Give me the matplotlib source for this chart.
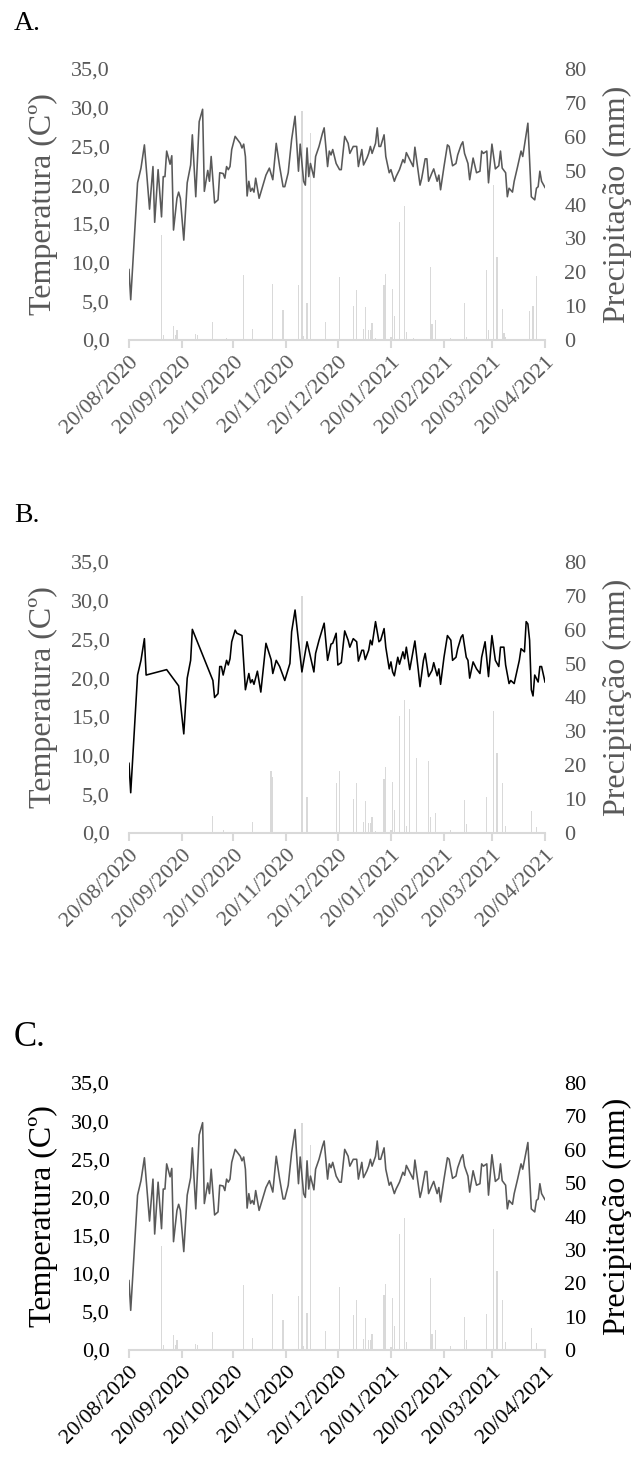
import datetime as dt
import matplotlib
matplotlib.use("Agg")
import matplotlib.pyplot as plt
import matplotlib.dates as mdates
from matplotlib.ticker import FixedLocator, FuncFormatter

plt.rcParams['font.family'] = ['Liberation Serif', 'DejaVu Serif']

start = dt.date(2020, 8, 20)
end = dt.date(2021, 4, 20)

# day offsets from 20/08/2020 and mean temperature (C)
days_a = [0, 1, 5, 7, 9, 12, 14, 15, 17, 19, 20, 21, 22, 24, 25, 26, 28, 29, 30, 32, 34, 36, 37, 39, 41, 43, 44,
          46, 47, 48, 50, 52, 53, 55, 56, 57, 58, 59, 60, 62, 65, 66, 67, 68, 69, 70, 71, 72, 73, 74, 76, 78, 80,
          82, 84, 86, 88, 90, 91, 93, 95, 97, 99, 100, 102, 103, 104, 105, 106, 108, 109, 111, 113, 114, 116,
          117, 118, 119, 121, 123, 124, 126, 128, 129, 131, 133, 134, 136, 137, 139, 140, 141, 142, 144, 145,
          146, 147, 149, 150, 152, 153, 155, 156, 158, 160, 161, 162, 164, 166, 167, 170, 171, 173, 174, 175,
          177, 178, 180, 181, 182, 184, 186, 187, 189, 191, 192, 194, 195, 196, 198, 199, 201, 203, 205, 206,
          207, 209, 210, 212, 214, 216, 217, 218, 220, 221, 222, 224, 225, 227, 229, 230, 233, 235, 237, 238,
          239, 240, 241, 243]
temp_a = [9.1, 5.2, 20.3, 22.2, 25.2, 16.9, 22.4, 15.2, 22.0, 15.9, 21.1, 21.1, 24.4, 22.7, 23.8, 14.2, 18.3,
          19.1, 18.3, 12.9, 20.3, 22.6, 26.5, 18.5, 28.2, 29.8, 19.2, 21.9, 20.5, 23.7, 17.7, 18.1, 21.6, 21.5,
          20.9, 22.4, 22.0, 22.4, 24.6, 26.3, 25.4, 24.8, 25.3, 23.7, 18.6, 20.5, 19.2, 19.6, 19.1, 20.9, 18.3,
          19.8, 21.3, 22.2, 20.7, 25.4, 22.4, 19.8, 19.8, 21.6, 25.9, 28.9, 21.8, 25.3, 20.5, 20.0, 24.8, 21.1,
          22.8, 21.0, 23.7, 25.0, 26.7, 27.4, 22.4, 24.4, 23.9, 24.6, 22.8, 22.0, 22.0, 26.3, 25.4, 24.1, 25.0,
          25.0, 22.4, 24.6, 22.6, 23.5, 24.1, 25.0, 24.1, 25.4, 27.4, 25.0, 25.0, 26.5, 23.7, 21.6, 22.0, 20.5,
          21.1, 22.0, 23.3, 22.9, 24.2, 23.3, 22.4, 24.9, 20.0, 20.9, 23.4, 23.4, 20.5, 21.6, 22.1, 20.5, 21.3,
          19.4, 22.4, 25.2, 25.0, 22.5, 22.8, 23.9, 25.2, 25.6, 24.1, 22.8, 20.7, 23.5, 21.6, 21.8, 24.4, 24.1,
          24.4, 20.3, 25.3, 22.1, 22.5, 24.4, 22.2, 21.6, 18.5, 19.6, 19.1, 20.5, 22.4, 24.4, 23.7, 28.0, 18.5,
          18.1, 19.6, 19.8, 21.8, 20.5, 19.7]

days_b = [0, 1, 5, 7, 9, 10, 22, 29, 32, 34, 36, 37, 49, 50, 52, 53, 54, 55, 57, 58, 59, 60, 62, 63, 66, 68, 70,
          71, 72, 73, 75, 77, 80, 83, 84, 86, 88, 91, 94, 95, 97, 101, 104, 108, 109, 111, 114, 116, 118, 119,
          121, 122, 124, 126, 128, 129, 131, 133, 134, 136, 137, 138, 140, 141, 142, 144, 146, 147, 149, 150,
          152, 153, 154, 155, 157, 158, 160, 161, 162, 164, 167, 169, 170, 172, 173, 175, 177, 178, 180, 181,
          182, 184, 186, 188, 189, 191, 192, 194, 195, 197, 198, 199, 201, 203, 205, 206, 208, 210, 212, 214,
          216, 217, 219, 220, 222, 223, 225, 228, 229, 231, 232, 233, 234, 235, 236, 237, 239, 240, 241, 243]
temp_b = [9.0, 5.2, 20.4, 22.3, 25.1, 20.4, 21.1, 19.0, 12.8, 20.0, 22.3, 26.3, 19.7, 17.5, 18.0, 21.5, 21.5,
          20.4, 22.3, 21.7, 22.5, 24.7, 26.2, 25.8, 25.5, 18.5, 20.6, 19.4, 19.8, 19.2, 20.9, 18.2, 24.5, 22.4,
          20.6, 22.3, 21.5, 19.7, 21.9, 26.0, 28.8, 20.8, 24.7, 20.8, 23.2, 24.9, 27.1, 22.3, 24.4, 24.5, 25.8,
          21.7, 22.0, 26.1, 24.9, 24.0, 25.1, 24.7, 22.2, 23.6, 23.6, 22.4, 23.6, 24.9, 24.3, 27.3, 24.7, 24.9,
          26.4, 24.0, 21.2, 22.1, 20.8, 20.3, 22.7, 21.8, 23.4, 22.5, 24.0, 21.1, 24.8, 21.0, 18.9, 22.3, 23.2,
          20.2, 21.0, 22.0, 20.3, 21.2, 19.2, 22.7, 25.5, 24.9, 22.3, 22.7, 23.8, 25.3, 25.6, 22.7, 22.3, 20.0,
          22.1, 21.2, 20.6, 22.7, 24.7, 20.2, 25.5, 22.3, 21.5, 24.0, 24.0, 21.7, 19.3, 19.7, 19.3, 22.3, 23.8,
          23.4, 27.3, 27.0, 24.9, 18.5, 17.7, 20.4, 19.5, 21.5, 21.5, 19.5]

# panel C follows A except a few days
days_c = days_a
c_changed = {212: 25.6, 233: 27.2}
temp_c = [c_changed.get(d, t) for d, t in zip(days_a, temp_a)]

# precipitation (mm): day offsets and amounts
rain_days_a = [19, 20, 26, 27, 28, 39, 40, 49, 57, 67, 72, 84, 90, 99, 101, 102, 104, 106, 115, 123, 131, 133,
               137, 138, 140, 141, 142, 144, 149, 150, 153, 154, 155, 158, 161, 162, 166, 176, 177, 179, 188,
               196, 197, 209, 210, 213, 215, 218, 219, 220, 234, 236, 238]
rain_a = [31.0, 1.5, 4.1, 1.5, 3.0, 1.8, 1.5, 5.4, 0.5, 19.2, 3.2, 16.6, 8.9, 16.1, 67.5, 1.2, 10.8, 61.1, 5.4,
          18.7, 10.0, 14.8, 3.2, 9.6, 3.0, 3.0, 4.9, 0.5, 16.3, 19.5, 0.8, 15.1, 7.1, 34.7, 39.6, 2.5, 0.5, 21.5,
          4.7, 5.9, 0.5, 11.0, 1.0, 20.7, 3.0, 45.8, 24.4, 9.1, 2.2, 0.8, 8.6, 9.9, 18.9]

rain_days_b = [49, 55, 72, 83, 84, 101, 104, 121, 123, 131, 133, 137, 138, 140, 141, 142, 144, 149, 150, 153,
               154, 155, 158, 161, 162, 164, 168, 175, 176, 179, 188, 196, 197, 209, 213, 215, 218, 220, 235, 238]
rain_b = [5.1, 1.0, 3.1, 18.4, 16.5, 69.9, 10.6, 14.9, 18.4, 10.0, 14.7, 3.1, 9.4, 2.9, 2.9, 4.7, 0.5, 16.0,
          19.4, 0.8, 15.2, 6.9, 34.5, 39.4, 2.0, 36.5, 22.1, 21.3, 4.6, 5.9, 1.0, 9.6, 2.7, 10.6, 36.1, 23.6,
          14.9, 2.2, 6.4, 1.8]

rain_days_c = [19, 20, 26, 27, 28, 39, 40, 49, 67, 72, 84, 90, 99, 101, 102, 104, 106, 115, 123, 131, 133, 137,
               138, 140, 141, 142, 149, 150, 153, 154, 155, 158, 161, 162, 176, 177, 179, 188, 196, 197, 209,
               213, 215, 218, 220, 235, 238]
rain_c = [31.2, 1.5, 4.5, 1.5, 3.0, 1.8, 1.5, 5.5, 19.6, 3.5, 16.8, 9.0, 16.1, 67.9, 1.2, 11.0, 61.4, 5.7,
          18.8, 10.4, 15.1, 3.2, 9.6, 3.0, 3.0, 4.9, 16.4, 19.8, 0.8, 15.6, 7.3, 34.9, 39.7, 2.5, 21.6, 4.7,
          6.0, 1.3, 9.8, 3.0, 10.8, 36.4, 23.8, 15.1, 2.3, 6.7, 2.0]

month_ticks = [dt.date(2020, m, 20) for m in range(8, 13)] + [dt.date(2021, m, 20) for m in range(1, 5)]


def todates(days):
    return [start + dt.timedelta(days=int(d)) for d in days]


def panel(rect, days, temps, rdays, rain, line_color, text_color):
    ax = fig.add_axes(rect)
    ax2 = ax.twinx()
    # rain bars behind the temperature line
    ax.set_zorder(ax2.get_zorder() + 1)
    ax.patch.set_visible(False)
    ax2.bar(todates(rdays), rain, width=0.7, color='#d9d9d9', linewidth=0)
    ax.plot(todates(days), temps, color=line_color, linewidth=1.15)

    ax.set_xlim(start, end)
    ax.set_ylim(0, 35)
    ax2.set_ylim(0, 80)
    ax.set_yticks([0, 5, 10, 15, 20, 25, 30, 35])
    ax.yaxis.set_major_formatter(FuncFormatter(lambda v, p: ('%.1f' % v).replace('.', ',')))
    ax2.set_yticks(range(0, 81, 10))

    ax.xaxis.set_major_locator(FixedLocator(mdates.date2num(month_ticks)))
    ax.xaxis.set_major_formatter(mdates.DateFormatter('%d/%m/%Y'))
    for lab in ax.get_xticklabels():
        lab.set_rotation(45)
        lab.set_ha('right')
        lab.set_rotation_mode('anchor')

    for a in (ax, ax2):
        for s in ('top', 'left', 'right', 'bottom'):
            a.spines[s].set_visible(False)
    ax.spines['bottom'].set_visible(True)
    ax.spines['bottom'].set_color('#d9d9d9')
    ax.spines['bottom'].set_linewidth(1.5)

    ax.tick_params(axis='x', colors='#d9d9d9', length=6, width=1.5, labelcolor=text_color,
                   labelsize=16, pad=3)
    ax.tick_params(axis='y', length=0, labelcolor=text_color, labelsize=16, pad=14)
    ax2.tick_params(axis='y', length=0, labelcolor=text_color, labelsize=16, pad=14)
    ax.set_ylabel('Temperatura (Cº)', fontsize=23, color=text_color, labelpad=9)
    ax2.set_ylabel('Precipitação (mm)', fontsize=23, color=text_color, labelpad=12)
    return ax


fig = plt.figure(figsize=(6.37, 14.57), dpi=100)
W, H = 637.0, 1457.0

panel([129 / W, 1 - 340 / H, 416 / W, 271 / H], days_a, temp_a, rain_days_a, rain_a, '#595959', '#595959')
panel([129 / W, 1 - 833 / H, 416 / W, 271 / H], days_b, temp_b, rain_days_b, rain_b, '#000000', '#595959')
panel([129 / W, 1 - 1350 / H, 416 / W, 267 / H], days_c, temp_c, rain_days_c, rain_c, '#595959', '#000000')

fig.text(14 / W, 1 - 24 / H, 'A.', fontsize=20, va='center')
fig.text(14 / W, 1 - 516 / H, 'B.', fontsize=20, va='center')
fig.text(14 / W, 1 - 1038 / H, 'C.', fontsize=25, va='center')

plt.savefig('out.png', dpi=100)
